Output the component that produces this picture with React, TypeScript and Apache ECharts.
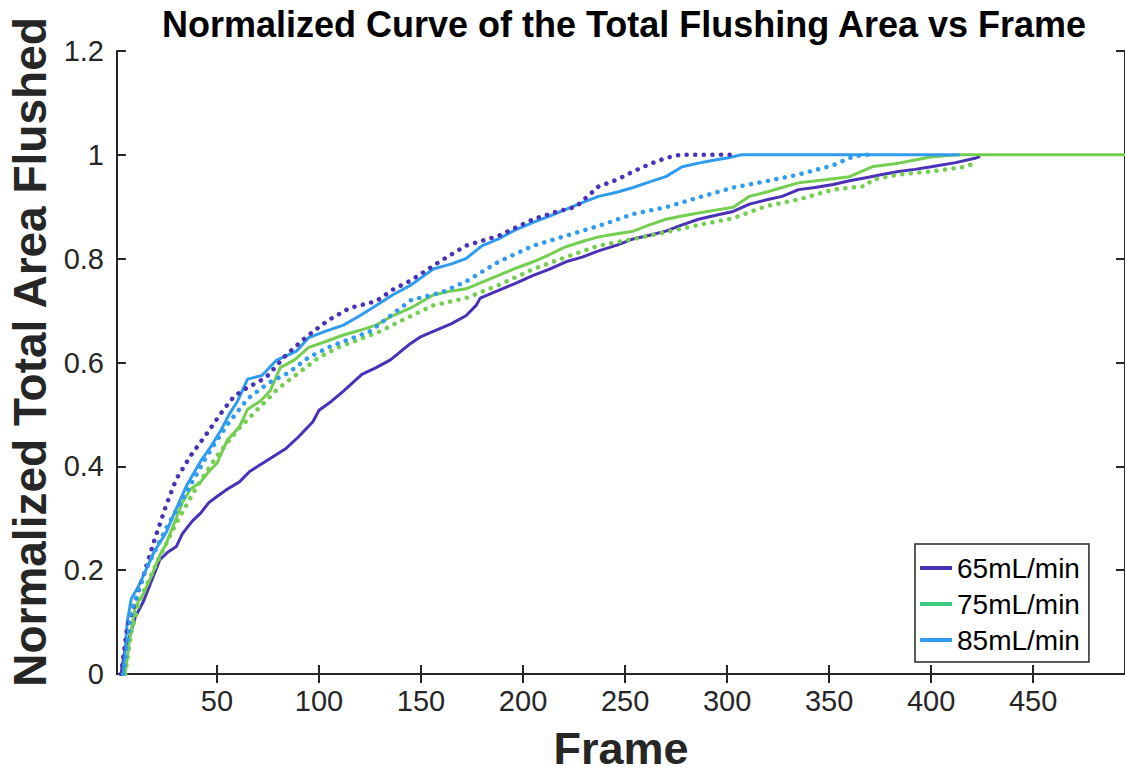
import React, { useEffect, useRef } from "react";
import * as echarts from "echarts";

// ---------- data (frame, normalized area) ----------
const p65Frames = [3, 5, 7, 10, 14, 18, 22, 26, 30, 33, 38, 42, 46, 50, 55, 61, 66, 72, 78, 84, 90, 97, 100, 106, 112, 121, 128, 135, 144, 150, 156, 165, 172, 177, 179, 188, 196, 205, 213, 221, 229, 237, 246, 254, 262, 270, 278, 286, 295, 303, 311, 320, 327, 335, 343, 352, 360, 368, 376, 384, 392, 400, 412, 422, 424];
const p65Values = [0, 0.05, 0.07, 0.11, 0.14, 0.18, 0.22, 0.235, 0.245, 0.27, 0.295, 0.31, 0.33, 0.342, 0.356, 0.37, 0.39, 0.405, 0.42, 0.435, 0.457, 0.486, 0.508, 0.525, 0.545, 0.577, 0.59, 0.605, 0.634, 0.65, 0.66, 0.675, 0.69, 0.71, 0.724, 0.739, 0.752, 0.768, 0.78, 0.794, 0.803, 0.815, 0.826, 0.838, 0.845, 0.853, 0.865, 0.876, 0.884, 0.891, 0.905, 0.914, 0.92, 0.933, 0.937, 0.943, 0.95, 0.956, 0.962, 0.968, 0.972, 0.977, 0.985, 0.994, 0.997];

const g75Frames = [5, 7, 10, 14, 18, 22, 25, 30, 33, 37, 42, 46, 50, 55, 61, 65, 71, 76, 81, 88, 95, 103, 112, 120, 128, 136, 145, 156, 164, 172, 180, 188, 196, 205, 213, 221, 229, 237, 246, 254, 262, 270, 278, 286, 295, 303, 311, 319, 327, 335, 348, 360, 371, 384, 392, 400, 407, 414, 495];
const g75Values = [0, 0.06, 0.13, 0.155, 0.19, 0.229, 0.25, 0.3, 0.33, 0.356, 0.37, 0.39, 0.406, 0.45, 0.476, 0.51, 0.525, 0.545, 0.59, 0.605, 0.629, 0.64, 0.653, 0.662, 0.672, 0.69, 0.705, 0.73, 0.737, 0.742, 0.755, 0.768, 0.781, 0.794, 0.808, 0.823, 0.833, 0.842, 0.848, 0.853, 0.865, 0.876, 0.882, 0.888, 0.894, 0.899, 0.92, 0.928, 0.937, 0.946, 0.952, 0.958, 0.977, 0.984, 0.99, 0.996, 0.998, 1, 1];

const b85Frames = [4, 6, 8, 11, 14, 19, 25, 30, 35, 42, 47, 52, 56, 60, 65, 72, 79, 89, 95, 103, 112, 120, 128, 136, 145, 156, 165, 172, 180, 188, 196, 205, 213, 221, 229, 237, 246, 254, 262, 270, 278, 286, 294, 300, 307, 414];
const b85Values = [0, 0.1, 0.145, 0.165, 0.19, 0.234, 0.272, 0.318, 0.362, 0.41, 0.438, 0.47, 0.5, 0.525, 0.568, 0.575, 0.604, 0.622, 0.648, 0.66, 0.672, 0.69, 0.71, 0.73, 0.749, 0.78, 0.79, 0.8, 0.825, 0.838, 0.855, 0.87, 0.882, 0.895, 0.908, 0.92, 0.928, 0.937, 0.948, 0.958, 0.977, 0.984, 0.99, 0.994, 1, 1];

const p65bFrames = [3, 6, 9, 14, 19, 25, 30, 37, 45, 53, 58, 62, 68, 74, 84, 94, 104, 115, 128, 136, 145, 159, 172, 188, 205, 216, 226, 237, 246, 254, 262, 270, 277, 303];
const p65bValues = [0, 0.09, 0.127, 0.19, 0.254, 0.324, 0.375, 0.42, 0.463, 0.508, 0.533, 0.545, 0.558, 0.571, 0.615, 0.65, 0.68, 0.705, 0.718, 0.74, 0.758, 0.794, 0.825, 0.844, 0.876, 0.89, 0.9, 0.939, 0.952, 0.968, 0.982, 0.994, 1, 1];

const b85bFrames = [4, 8, 15, 25, 35, 45, 55, 65, 75, 85, 95, 105, 115, 125, 135, 145, 160, 172, 188, 205, 221, 237, 254, 270, 286, 303, 319, 335, 352, 360, 366, 370];
const b85bValues = [0, 0.12, 0.2, 0.28, 0.35, 0.42, 0.48, 0.53, 0.56, 0.58, 0.61, 0.63, 0.645, 0.66, 0.69, 0.72, 0.735, 0.756, 0.794, 0.825, 0.844, 0.863, 0.886, 0.899, 0.918, 0.937, 0.949, 0.962, 0.98, 0.994, 1, 1];

const g75bFrames = [5, 8, 12, 20, 30, 40, 50, 60, 70, 80, 90, 100, 110, 120, 130, 140, 156, 172, 188, 205, 221, 237, 254, 270, 286, 303, 319, 335, 352, 368, 371, 384, 400, 417, 423];
const g75bValues = [0, 0.08, 0.14, 0.21, 0.29, 0.36, 0.42, 0.47, 0.51, 0.55, 0.58, 0.61, 0.63, 0.645, 0.66, 0.68, 0.71, 0.724, 0.749, 0.78, 0.803, 0.825, 0.838, 0.851, 0.865, 0.878, 0.901, 0.914, 0.933, 0.94, 0.952, 0.962, 0.968, 0.977, 0.987];

const xTickValues = [50, 100, 150, 200, 250, 300, 350, 400, 450];
const legendNames = ["65mL/min", "75mL/min", "85mL/min"];

const PURPLE = "#4b30b8";
const GREEN = "#74cf50";
const BLUE = "#2f9cf0";
const LEGEND_GREEN = "#3ccb7f";
const AXIS = "#262626";
const FONT = "'Liberation Sans', Arial, Helvetica, sans-serif";

const zip = (xs: number[], ys: number[]) => xs.map((x, i) => [x, ys[i]]);

export default function App() {
  const ref = useRef<HTMLDivElement>(null);

  useEffect(() => {
    if (!ref.current) return;
    const chart = echarts.init(ref.current, null, { renderer: "svg" });

    const solid = (name: string, color: string, data: number[][]) => ({
      name,
      type: "line",
      data,
      symbol: "none",
      showSymbol: false,
      silent: true,
      lineStyle: { color, width: 3 },
      itemStyle: { color },
    });
    const dotted = (name: string, color: string, data: number[][]) => ({
      name,
      type: "line",
      data,
      symbol: "none",
      showSymbol: false,
      silent: true,
      lineStyle: { color, width: 4.5, type: [0.1, 8.5], cap: "round" },
      itemStyle: { color },
    });

    const axisLineStyle = { color: AXIS, width: 2 };

    chart.setOption({
      animation: false,
      backgroundColor: "#ffffff",
      title: {
        text: "Normalized Curve of the Total Flushing Area vs Frame",
        left: 619,
        top: 1,
        textAlign: "center",
        textStyle: { fontSize: 36, fontWeight: "bold", color: "#000", fontFamily: FONT },
      },
      legend: {
        orient: "vertical",
        left: 915,
        top: 544,
        padding: [9, 9, 7, 5],
        itemGap: 6,
        itemWidth: 32,
        itemHeight: 4,
        icon: "rect",
        borderColor: AXIS,
        borderWidth: 1.5,
        backgroundColor: "#fff",
        selectedMode: false,
        textStyle: { fontSize: 28, color: "#000", fontFamily: FONT, lineHeight: 30 },
        data: [
          { name: legendNames[0] },
          { name: legendNames[1], itemStyle: { color: LEGEND_GREEN } },
          { name: legendNames[2] },
        ],
      },
      grid: { left: 117, top: 51, width: 1010, height: 626, containLabel: false },
      xAxis: [
        {
          type: "value",
          min: 1,
          max: 495,
          position: "bottom",
          axisLine: { show: true, lineStyle: axisLineStyle },
          axisTick: { show: true, inside: true, length: 9, customValues: xTickValues, lineStyle: axisLineStyle },
          axisLabel: { customValues: xTickValues, fontSize: 29, color: AXIS, margin: 12, fontFamily: FONT },
          splitLine: { show: false },
          name: "Frame",
          nameLocation: "middle",
          nameGap: 52,
          nameTextStyle: { fontSize: 45, fontWeight: "bold", color: AXIS, fontFamily: FONT },
        },
        {
          type: "value",
          min: 1,
          max: 495,
          position: "top",
          axisLine: { show: true, lineStyle: axisLineStyle },
          axisTick: { show: true, inside: true, length: 9, customValues: xTickValues, lineStyle: axisLineStyle },
          axisLabel: { show: false },
          splitLine: { show: false },
        },
      ],
      yAxis: [
        {
          type: "value",
          min: 0,
          max: 1.2,
          interval: 0.2,
          position: "left",
          axisLine: { show: true, lineStyle: axisLineStyle },
          axisTick: { show: true, inside: true, length: 9, lineStyle: axisLineStyle },
          axisLabel: {
            fontSize: 29,
            color: AXIS,
            margin: 13,
            fontFamily: FONT,
            showMinLabel: true,
            showMaxLabel: true,
            formatter: (v: number) => String(Math.round(v * 10) / 10),
          },
          splitLine: { show: false },
        },
        {
          type: "value",
          min: 0,
          max: 1.2,
          interval: 0.2,
          position: "right",
          axisLine: { show: true, lineStyle: axisLineStyle },
          axisTick: { show: true, inside: true, length: 9, lineStyle: axisLineStyle },
          axisLabel: { show: false },
          splitLine: { show: false },
        },
      ],
      graphic: [
        {
          type: "text",
          x: 30,
          y: 352,
          rotation: Math.PI / 2,
          style: {
            text: "Normalized Total Area Flushed",
            fontSize: 46,
            fontWeight: "bold",
            fill: AXIS,
            fontFamily: FONT,
            align: "center",
            verticalAlign: "middle",
          },
        },
      ],
      series: [
        solid(legendNames[0], PURPLE, zip(p65Frames, p65Values)),
        solid(legendNames[1], GREEN, zip(g75Frames, g75Values)),
        solid(legendNames[2], BLUE, zip(b85Frames, b85Values)),
        dotted("65mL/min (trial 2)", PURPLE, zip(p65bFrames, p65bValues)),
        dotted("75mL/min (trial 2)", GREEN, zip(g75bFrames, g75bValues)),
        dotted("85mL/min (trial 2)", BLUE, zip(b85bFrames, b85bValues)),
      ],
    });

    return () => chart.dispose();
  }, []);

  return (
    <div
      ref={ref}
      style={{ position: "fixed", left: 0, top: 0, width: 1125, height: 776, background: "#fff" }}
    />
  );
}
